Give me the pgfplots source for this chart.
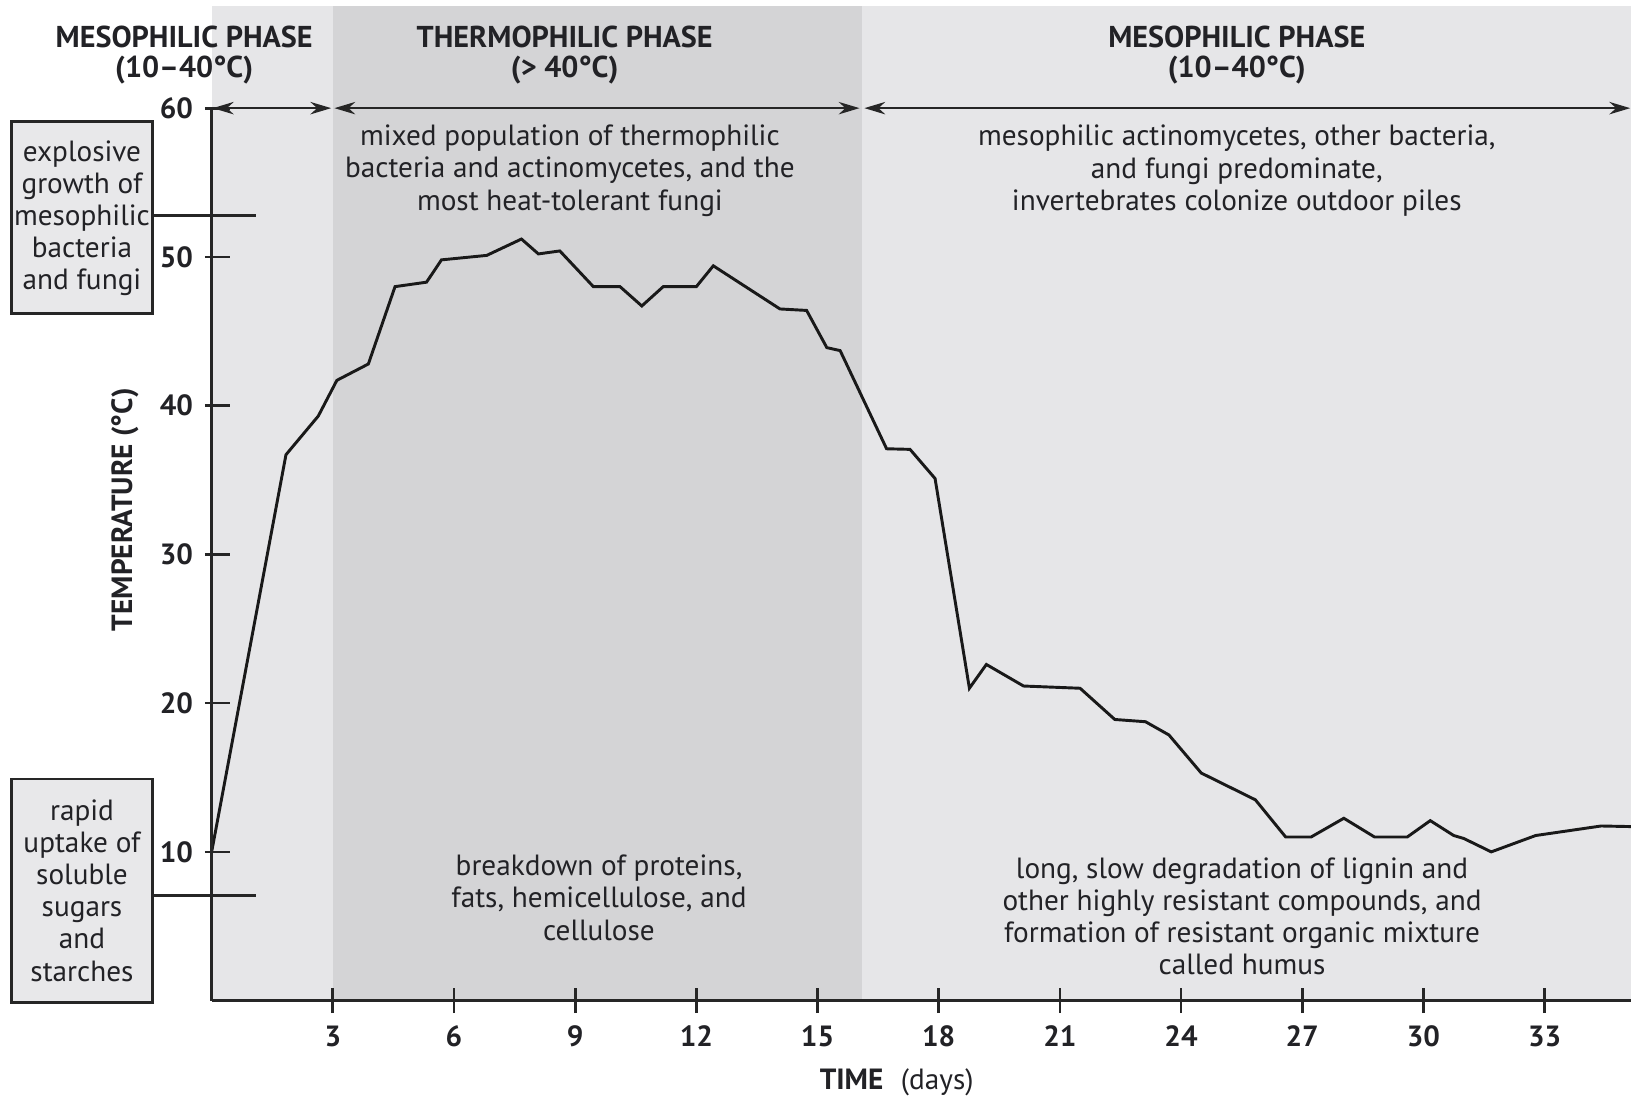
\documentclass[border=0pt]{standalone}
\usepackage{fontspec}
\setmainfont{PT Sans}
\usepackage{pgfplots}
\usepackage{pgfplotstable}
\pgfplotsset{compat=1.18}
\usetikzlibrary{arrows.meta}
\definecolor{bandlight}{RGB}{230,230,232}
\definecolor{banddark}{RGB}{212,212,214}
\definecolor{boxfill}{RGB}{232,232,234}
\definecolor{txt}{RGB}{34,34,38}
\newcommand\ft{\fontsize{8pt}{8.8pt}\selectfont}
\newcommand\fb{\fontsize{8pt}{8.3pt}\selectfont\bfseries}
\newcommand\fh{\fontsize{8.25pt}{8.3pt}\selectfont\bfseries}

\pgfplotstableread{
day temp
0 10.0
1.84 36.7
2.64 39.3
3.10 41.7
3.88 42.8
4.54 48.0
5.32 48.3
5.69 49.8
6.81 50.1
7.67 51.2
8.09 50.2
8.62 50.4
9.45 48.0
10.11 48.0
10.65 46.7
11.18 48.0
12.0 48.0
12.42 49.4
14.07 46.5
14.73 46.4
15.23 43.9
15.56 43.7
16.71 37.1
17.29 37.06
17.91 35.1
18.76 21.0
19.18 22.6
20.1 21.15
21.5 21.0
22.36 18.9
23.12 18.75
23.7 17.86
24.5 15.3
25.84 13.5
26.59 11.0
27.22 11.0
28.03 12.26
28.79 11.0
29.6 11.0
30.17 12.1
30.75 11.1
31.0 10.9
31.68 10.0
32.78 11.1
34.4 11.74
35.14 11.7
}\tempdata

\begin{document}
\begin{tikzpicture}
\begin{axis}[
  scale only axis, width=13.645cm, height=8.58cm,
  xmin=0, xmax=35.14, ymin=0, ymax=60,
  axis x line=bottom, axis y line=left,
  axis line style={-, line width=0.85pt, black!85},
  xtick={3,6,...,33}, ytick={10,20,...,60},
  tick align=center, major tick length=0.24cm,
  tick style={line width=0.75pt, black!85},
  ytick style={xshift=0.055cm},
  ticklabel style={font=\fb, text=txt},
  yticklabel style={xshift=0.065cm},
  /pgf/number format/assume math mode=true,
  xlabel={\textbf{TIME}\hspace{0.6em}(days)},
  ylabel={\textbf{TEMPERATURE (°C)}},
  xlabel style={font=\ft, text=txt, at={(axis description cs:0.4826,-0.0915)}, anchor=center},
  ylabel style={font=\fb, text=txt, at={(axis description cs:-0.0612,0.550)}, anchor=center},
  clip=false, axis on top,
]
\fill[bandlight] (axis cs:0,0) rectangle (axis cs:3,66.9);
\fill[banddark] (axis cs:3,0) rectangle (axis cs:16.1,66.9);
\fill[bandlight] (axis cs:16.1,0) rectangle (axis cs:35.14,66.9);

\addplot[line width=0.8pt, black!90] table[x=day, y=temp] {\tempdata};

\tikzset{dbl/.style={{Stealth[length=5.7pt,width=3.4pt]}-{Stealth[length=5.7pt,width=3.4pt]}, line width=0.6pt, black!85}}
\draw[dbl] (axis cs:0.03,60) -- (axis cs:2.96,60);
\draw[dbl] (axis cs:3.04,60) -- (axis cs:16.04,60);
\draw[dbl] (axis cs:16.16,60) -- (axis cs:35.12,60);

\node[font=\fh, text=txt, align=center] at (axis cs:-0.68,63.55) {MESOPHILIC PHASE\\(10–40°C)};
\node[font=\fh, text=txt, align=center] at (axis cs:8.74,63.55) {THERMOPHILIC PHASE\\(> 40°C)};
\node[font=\fh, text=txt, align=center] at (axis cs:25.38,63.55) {MESOPHILIC PHASE\\(10–40°C)};

\node[font=\ft, text=txt, align=center] at (axis cs:8.87,55.8) {mixed population of thermophilic\\bacteria and actinomycetes, and the\\most heat-tolerant fungi};
\node[font=\ft, text=txt, align=center] at (axis cs:25.38,55.8) {mesophilic actinomycetes, other bacteria,\\and fungi predominate,\\invertebrates colonize outdoor piles};
\node[font=\ft, text=txt, align=center] at (axis cs:9.59,6.92) {breakdown of proteins,\\fats, hemicellulose, and\\cellulose};
\node[font=\ft, text=txt, align=center] at (axis cs:25.51,5.68) {long, slow degradation of lignin and\\other highly resistant compounds, and\\formation of resistant organic mixture\\called humus};

\draw[line width=0.8pt, black!85, fill=boxfill] (axis cs:-4.96,46.22) rectangle (axis cs:-1.456,59.09);
\draw[line width=0.8pt, black!85, fill=boxfill] (axis cs:-4.96,-0.14) rectangle (axis cs:-1.456,14.9);
\draw[line width=0.7pt, black!85] (axis cs:-1.456,52.8) -- (axis cs:1.09,52.8);
\draw[line width=0.7pt, black!85] (axis cs:-1.456,7.06) -- (axis cs:1.09,7.06);
\node[font=\ft, text=txt, align=center] at (axis cs:-3.21,52.6) {explosive\\growth of\\mesophilic\\bacteria\\and fungi};
\node[font=\ft, text=txt, align=center] at (axis cs:-3.21,7.4) {rapid\\uptake of\\soluble\\sugars\\and\\starches};

\coordinate (BL) at (axis cs:-5.24,-6.43);
\coordinate (TR) at (axis cs:35.14,67.27);
\end{axis}
\pgfresetboundingbox
\path[use as bounding box] (BL) rectangle (TR);
\end{tikzpicture}
\end{document}
